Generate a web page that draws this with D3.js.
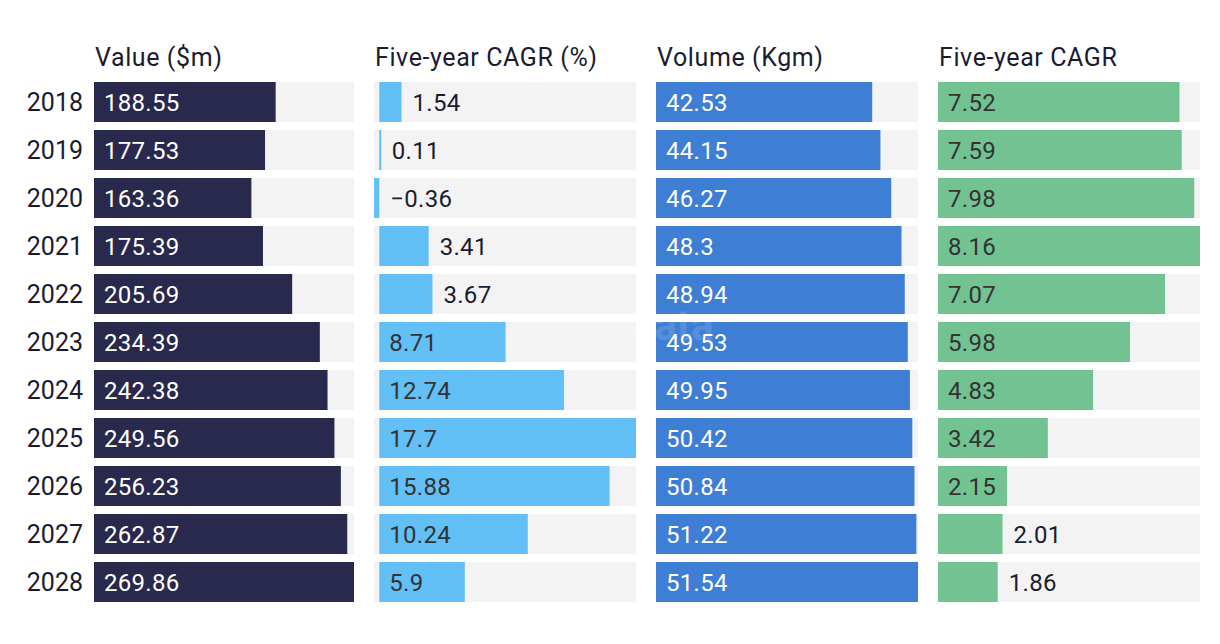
<!DOCTYPE html>
<html>
<head>
<meta charset="utf-8">
<script src="https://cdn.jsdelivr.net/npm/d3@7"></script>
<style>
  body { margin: 0; background: #fff; }
  svg text { font-family: Roboto, "Liberation Sans", sans-serif; }
</style>
</head>
<body>
<svg id="chart" width="1220" height="644"></svg>
<script>
// data
var years = ["2018","2019","2020","2021","2022","2023","2024","2025","2026","2027","2028"];
var valueM = [188.55,177.53,163.36,175.39,205.69,234.39,242.38,249.56,256.23,262.87,269.86];
var valueCagr = [1.54,0.11,-0.36,3.41,3.67,8.71,12.74,17.7,15.88,10.24,5.9];
var volumeKgm = [42.53,44.15,46.27,48.3,48.94,49.53,49.95,50.42,50.84,51.22,51.54];
var volumeCagr = [7.52,7.59,7.98,8.16,7.07,5.98,4.83,3.42,2.15,2.01,1.86];
var titles = ["Value ($m)","Five-year CAGR (%)","Volume (Kgm)","Five-year CAGR"];

var panels = [
  {title: titles[0], vals: valueM,     x0: 94,  w: 260, color: "#29294d", inText: "#ffffff"},
  {title: titles[1], vals: valueCagr,  x0: 374, w: 262, color: "#62c0f7", inText: "#333333"},
  {title: titles[2], vals: volumeKgm,  x0: 656, w: 262, color: "#3f7ed5", inText: "#ffffff"},
  {title: titles[3], vals: volumeCagr, x0: 938, w: 262, color: "#72c292", inText: "#333333"}
];
var dark = "#1c1c30";

var svg = d3.select("#chart");

// band = 40, step = 48
var y = d3.scaleBand().domain(years)
  .range([82, 82 + 48*years.length - 8])
  .paddingInner(8/48).paddingOuter(0);

// year labels
svg.selectAll("text.year").data(years).enter().append("text")
  .attr("class", "year")
  .attr("x", 83)
  .attr("y", function(d){ return y(d) + y.bandwidth()/2; })
  .attr("dy", "0.36em")
  .attr("text-anchor", "end")
  .attr("fill", dark)
  .style("font-size", "25px")
  .text(function(d){ return d; });

panels.forEach(function(p){
  var mn = Math.min(0, d3.min(p.vals));
  var x = d3.scaleLinear().domain([mn, d3.max(p.vals)]).range([p.x0, p.x0 + p.w]);
  var g = svg.append("g");

  g.append("text")
    .attr("x", p.x0 + 1).attr("y", 66)
    .attr("fill", dark)
    .style("font-size", "25px")
    .style("letter-spacing", "0.6px")
    .text(p.title);

  var rows = g.selectAll("g.row").data(p.vals).enter().append("g").attr("class", "row");

  rows.append("rect")
    .attr("x", p.x0)
    .attr("y", function(d,i){ return y(years[i]); })
    .attr("width", p.w)
    .attr("height", y.bandwidth())
    .attr("fill", "#f3f3f3");

  rows.append("rect")
    .attr("x", function(d){ return x(Math.min(0, d)); })
    .attr("y", function(d,i){ return y(years[i]); })
    .attr("width", function(d){ return Math.max(2, Math.abs(x(d) - x(0))); })
    .attr("height", y.bandwidth())
    .attr("fill", p.color);

  rows.append("text")
    .attr("y", function(d,i){ return y(years[i]) + y.bandwidth()/2; })
    .attr("dy", "0.36em")
    .style("font-size", "24px")
    .style("letter-spacing", "0.3px")
    .text(function(d){ return d < 0 ? "\u2212" + Math.abs(d) : d; })
    .each(function(d){
      var t = d3.select(this);
      var tw = this.getComputedTextLength();
      var bw = Math.abs(x(d) - x(0));
      if (d > 0 && bw >= tw + 21) {
        t.attr("x", x(0) + 10).attr("fill", p.inText);
      } else {
        t.attr("x", Math.max(x(0), x(d)) + 11).attr("fill", dark);
      }
    });
});

// watermark
svg.append("text")
  .attr("x", 610).attr("y", 340)
  .attr("text-anchor", "middle")
  .style("font-size", "42px").style("font-weight", "bold")
  .attr("fill", "#ffffff").attr("opacity", 0.12)
  .text("GlobalData");
</script>
</body>
</html>
